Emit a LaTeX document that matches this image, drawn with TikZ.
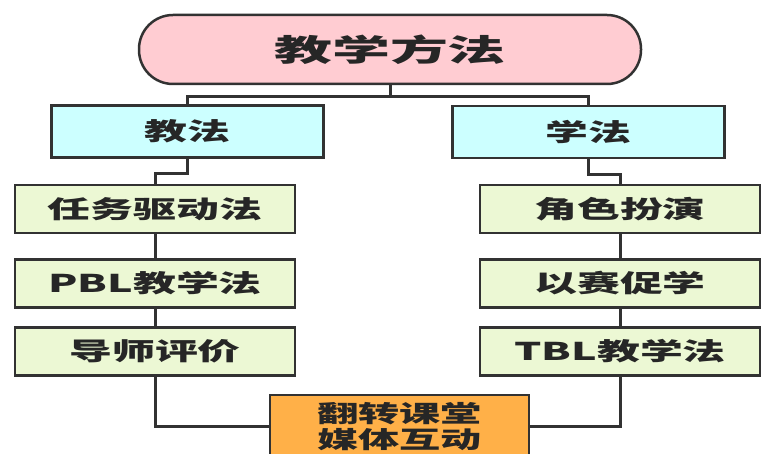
\documentclass[tikz,border=0pt]{standalone}
\usepackage{fontspec}
\newfontfamily\cjk{Noto Sans CJK SC}[FakeStretch=1.75]
\newfontfamily\cjkt{Noto Sans CJK SC}[FakeStretch=1.9]
\definecolor{pinkf}{RGB}{255,204,210}
\definecolor{cyanf}{RGB}{204,255,255}
\definecolor{greenf}{RGB}{236,248,212}
\definecolor{orangef}{RGB}{255,176,72}
\definecolor{edge}{RGB}{50,50,50}
\definecolor{txt}{RGB}{38,38,38}
\tikzset{
  box/.style={draw=edge, line width=2.5pt, inner sep=0pt, text=txt, font=\cjk\bfseries\fontsize{24.5}{26}\selectfont},
  topbox/.style={box, fill=pinkf, rounded corners=34pt, minimum width=502pt, minimum height=69pt, font=\cjkt\bfseries\fontsize{30.5}{32}\selectfont},
  headbox/.style={box, fill=cyanf, minimum width=272pt, minimum height=52pt},
  itembox/.style={box, fill=greenf, minimum width=280pt, minimum height=48pt},
  endbox/.style={box, fill=orangef, minimum width=259pt, minimum height=64pt, align=center, font=\cjk\bfseries\fontsize{23.5}{26}\selectfont},
  link/.style={draw=edge, line width=3pt}
}
\begin{document}
\begin{tikzpicture}[x=1pt,y=1pt]
\useasboundingbox (0,0) rectangle (761,-454);
\clip (0,0) rectangle (761,-454);
\fill[white] (0,0) rectangle (761,-454);
\node[topbox] (top) at (390,-49.5) {教学方法};
\node[headbox] (jf) at (187.5,-131.5) {教法};
\node[headbox] (xf) at (588.5,-132) {学法};
\node[itembox] (l1) at (155,-209) {任务驱动法};
\node[itembox] (l2) at (155,-283.5) {PBL教学法};
\node[itembox] (l3) at (155,-351.5) {导师评价};
\node[itembox] (r1) at (620,-209) {角色扮演};
\node[itembox] (r2) at (620,-283.5) {以赛促学};
\node[itembox] (r3) at (620,-351.5) {TBL教学法};
\node[endbox] (ob) at (399.5,-427) {翻转课堂\\媒体互动};
\draw[link] (top.south) -- ++(0,-11) coordinate (j);
\draw[link] (j) -| (jf.north);
\draw[link] (j) -| (xf.north);
\draw[link] (jf.south) -- ++(0,-15) -| (l1.north);
\draw[link] (xf.south) -- ++(0,-15) -| (r1.north);
\draw[link] (l1.south) -- (l2.north);
\draw[link] (l2.south) -- (l3.north);
\draw[link] (r1.south) -- (r2.north);
\draw[link] (r2.south) -- (r3.north);
\draw[link] (l3.south) |- (ob.west);
\draw[link] (r3.south) |- (ob.east);
\end{tikzpicture}
\end{document}
